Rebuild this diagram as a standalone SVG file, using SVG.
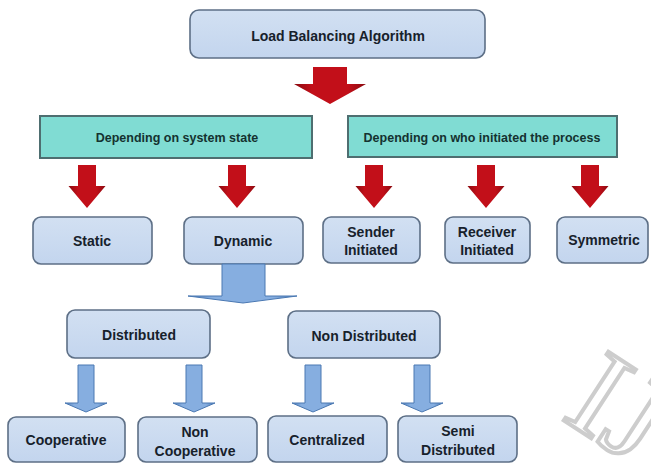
<svg xmlns="http://www.w3.org/2000/svg" width="651" height="463" viewBox="0 0 651 463">
  <defs>
    <linearGradient id="redGrad" x1="0" y1="0" x2="1" y2="0">
      <stop offset="0" stop-color="#8a0a10"/>
      <stop offset="0.25" stop-color="#c20f19"/>
      <stop offset="0.75" stop-color="#c20f19"/>
      <stop offset="1" stop-color="#8a0a10"/>
    </linearGradient>
    <linearGradient id="blueGrad" x1="0" y1="0" x2="1" y2="0">
      <stop offset="0" stop-color="#4f7db8"/>
      <stop offset="0.22" stop-color="#86aee0"/>
      <stop offset="0.78" stop-color="#86aee0"/>
      <stop offset="1" stop-color="#4f7db8"/>
    </linearGradient>
    <linearGradient id="boxGrad" x1="0" y1="0" x2="0" y2="1">
      <stop offset="0" stop-color="#d2e0f2"/>
      <stop offset="1" stop-color="#c3d5ee"/>
    </linearGradient>
  </defs>
  <style>
    .box { fill: url(#boxGrad); stroke: #5d6f86; stroke-width: 1.6; }
    .cat { fill: #80dcd3; stroke: #4e6e70; stroke-width: 2; }
    .lbl { font-family: "Liberation Sans", Arial, sans-serif; font-weight: bold; font-size: 14px; fill: #17212b; text-anchor: middle; }
    .cl { font-family: "Liberation Sans", Arial, sans-serif; font-weight: bold; font-size: 12.5px; fill: #143230; text-anchor: middle; }
    .red { fill: url(#redGrad); }
    .blue { fill: url(#blueGrad); stroke: #4a78b2; stroke-width: 1; }
    .wm { font-family: "Liberation Serif", "Times New Roman", serif; font-size: 125px; fill: #ffffff; stroke: #cdcdcd; stroke-width: 4; }
  </style>

  <rect width="651" height="463" fill="#ffffff"/>

  <!-- faint publisher watermark, running off the lower-right corner -->
  <text class="wm" x="560" y="418" transform="rotate(33 560 418)">IJERT</text>

  <!-- nodes -->
  <g id="root">
    <rect class="box" x="190" y="10" width="295" height="48" rx="9"/>
    <text class="lbl" x="338" y="41">Load Balancing Algorithm</text>
  </g>
  <g id="system-state">
    <rect class="cat" x="40" y="116" width="272" height="42"/>
    <text class="cl" x="177" y="142">Depending on system state</text>
  </g>
  <g id="initiator">
    <rect class="cat" x="348" y="116" width="269" height="41"/>
    <text class="cl" x="482" y="142">Depending on who initiated the process</text>
  </g>
  <g id="static">
    <rect class="box" x="33" y="217" width="119" height="47" rx="8"/>
    <text class="lbl" x="92" y="246">Static</text>
  </g>
  <g id="dynamic">
    <rect class="box" x="184" y="217" width="119" height="47" rx="8"/>
    <text class="lbl" x="243" y="246">Dynamic</text>
  </g>
  <g id="sender">
    <rect class="box" x="323" y="217" width="97" height="46" rx="8"/>
    <text class="lbl" x="371" y="237">Sender</text>
    <text class="lbl" x="371" y="255">Initiated</text>
  </g>
  <g id="receiver">
    <rect class="box" x="445" y="217" width="85" height="46" rx="8"/>
    <text class="lbl" x="487" y="237">Receiver</text>
    <text class="lbl" x="487" y="255">Initiated</text>
  </g>
  <g id="symmetric">
    <rect class="box" x="557" y="217" width="91" height="46" rx="8"/>
    <text class="lbl" x="604" y="245">Symmetric</text>
  </g>
  <g id="distributed">
    <rect class="box" x="67" y="310" width="143" height="48" rx="8"/>
    <text class="lbl" x="139" y="340">Distributed</text>
  </g>
  <g id="non-distributed">
    <rect class="box" x="288" y="311" width="152" height="47" rx="8"/>
    <text class="lbl" x="364" y="341">Non Distributed</text>
  </g>
  <g id="cooperative">
    <rect class="box" x="8" y="417" width="117" height="45" rx="8"/>
    <text class="lbl" x="66" y="445">Cooperative</text>
  </g>
  <g id="non-cooperative">
    <rect class="box" x="138" y="417" width="119" height="45" rx="8"/>
    <text class="lbl" x="195" y="437">Non</text>
    <text class="lbl" x="195" y="456">Cooperative</text>
  </g>
  <g id="centralized">
    <rect class="box" x="268" y="416" width="119" height="46" rx="8"/>
    <text class="lbl" x="327" y="445">Centralized</text>
  </g>
  <g id="semi-distributed">
    <rect class="box" x="398" y="416" width="119" height="46" rx="8"/>
    <text class="lbl" x="458" y="436">Semi</text>
    <text class="lbl" x="458" y="455">Distributed</text>
  </g>

  <!-- connectors: block arrows -->
  <g id="connectors">
    <path class="red" d="M313 67 H347 V84 H366 L330 104 L294 84 H313 Z"/>
    <path class="red" d="M78 165 H96 V186 H105.5 L87 208 L68.5 186 H78 Z"/>
    <path class="red" d="M228 165 H246 V186 H255.5 L237 208 L218.5 186 H228 Z"/>
    <path class="red" d="M365 165 H383 V186 H392.5 L374 208 L355.5 186 H365 Z"/>
    <path class="red" d="M477 165 H495 V186 H504.5 L486 208 L467.5 186 H477 Z"/>
    <path class="red" d="M581 165 H599 V186 H608.5 L590 208 L571.5 186 H581 Z"/>

    <path class="blue" d="M222 264 H265 V296 H297 L243 303 L188 296 H222 Z"/>
    <path class="blue" d="M78 365 H94 V403 H107 L86 412 L65 403 H78 Z"/>
    <path class="blue" d="M186 365 H202 V403 H215 L194 412 L173 403 H186 Z"/>
    <path class="blue" d="M305 365 H321 V403 H334 L313 412 L292 403 H305 Z"/>
    <path class="blue" d="M414 365 H430 V403 H443 L422 412 L401 403 H414 Z"/>
  </g>
</svg>
